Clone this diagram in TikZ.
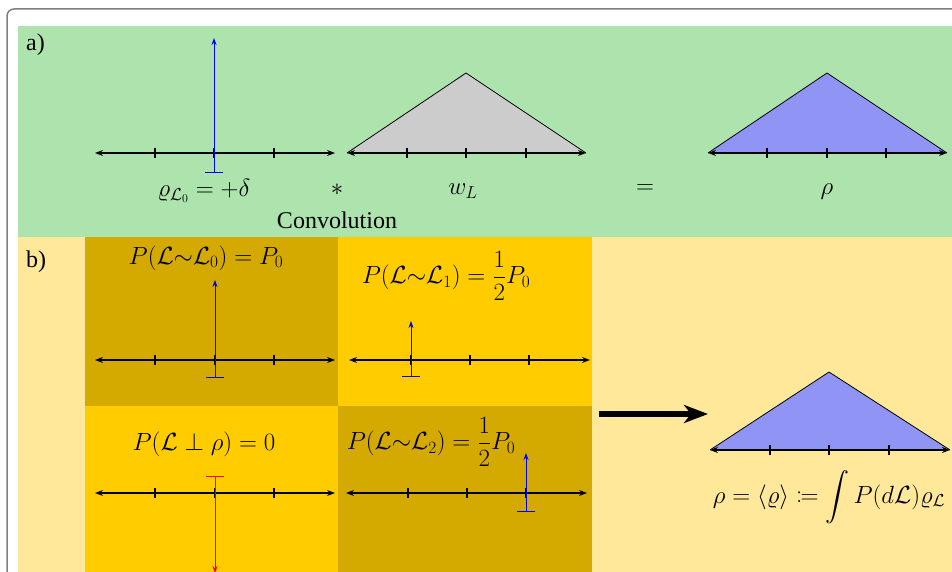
\documentclass[tikz,border=0pt]{standalone}
\usepackage{amsmath,amssymb}
\usepackage{mathtools}
\usepackage{fontspec}
\setmainfont{Liberation Serif}
\usetikzlibrary{arrows.meta}
\definecolor{bggreen}{RGB}{173,227,173}
\definecolor{bgyellow}{RGB}{255,232,153}
\definecolor{darkgold}{RGB}{212,170,0}
\definecolor{brightgold}{RGB}{255,204,0}
\definecolor{trifill}{RGB}{144,148,245}
\definecolor{grayfill}{RGB}{204,204,204}
\definecolor{framegray}{RGB}{128,128,128}
\begin{document}
\begin{tikzpicture}[x=1pt,y=-1pt,
  txt/.style={inner sep=0pt, font=\fontsize{24}{28}\selectfont\rmfamily},
  mtxt/.style={inner sep=0pt, font=\fontsize{24}{28}\selectfont},
  axisline/.style={line width=1.1pt, {Stealth[length=8pt,width=6pt]}-{Stealth[length=8pt,width=6pt]}},
  tickmark/.style={line width=1.1pt},
  spike/.style={blue, line width=1pt, {Bar[width=18pt]}-{Stealth[length=7pt,width=5pt]}},
  negspike/.style={red, line width=1pt, {Bar[width=18pt]}-{Stealth[length=7pt,width=5pt]}},
  tri/.style={draw=black, line width=0.8pt},
  bigarrow/.style={line width=6pt, -{Stealth[length=24pt,width=18pt,inset=7pt]}}]
\useasboundingbox (0,0) rectangle (952,572);
\clip (0,0) rectangle (952,572);
\fill[white] (0,0) rectangle (952,572);
% outer frame
\draw[framegray, line width=1.5pt, rounded corners=7pt] (7,9) rectangle (1100,800);
% panels
\fill[bggreen] (18,26) rectangle (960,237);
\fill[bgyellow] (18,237) rectangle (960,580);
\fill[darkgold] (85,237) rectangle (338,406);
\fill[brightgold] (338,237) rectangle (592,406);
\fill[brightgold] (85,406) rectangle (338,580);
\fill[darkgold] (338,406) rectangle (592,580);
% panel labels
\node[txt, anchor=west] (la) at (26,45) {a)};
\node[txt, anchor=west] (lb) at (26,262) {b)};
% ---------- a) ----------
\coordinate (a1l) at (95,153); \coordinate (a1r) at (335,153);
\draw[axisline] (a1l) -- (a1r);
\foreach \x in {155,214,274} \draw[tickmark] (\x,148) -- (\x,158);
\coordinate (s0b) at (214,173); \coordinate (s0t) at (214,38);
\draw[spike] (s0b) -- (s0t);
\coordinate (a2l) at (347,153); \coordinate (a2r) at (586,153); \coordinate (a2t) at (466,73);
\filldraw[tri, fill=grayfill] (a2l) -- (a2t) -- (a2r);
\draw[axisline] (a2l) -- (a2r);
\foreach \x in {407,466,526} \draw[tickmark] (\x,148) -- (\x,158);
\coordinate (a3l) at (708,153); \coordinate (a3r) at (947,153); \coordinate (a3t) at (827,73);
\filldraw[tri, fill=trifill] (a3l) -- (a3t) -- (a3r);
\draw[axisline] (a3l) -- (a3r);
\foreach \x in {767,827,886} \draw[tickmark] (\x,148) -- (\x,158);
\node[mtxt] (lrho0) at (204,191) {$\varrho_{\mathcal{L}_0}=+\delta$};
\node[mtxt] (lstar) at (337,190) {$*$};
\node[mtxt] (lw) at (463,191) {$w_L$};
\node[mtxt] (leq) at (645,189) {$=$};
\node[mtxt] (lrho) at (827,192) {$\rho$};
\node[txt] (lconv) at (337,220) {Convolution};
% ---------- b) ----------
\node[mtxt] (t1) at (206,258) {$P(\mathcal{L}{\sim}\mathcal{L}_0)=P_0$};
\draw[axisline] (95,360) -- (335,360);
\foreach \x in {155,215,274} \draw[tickmark] (\x,355) -- (\x,365);
\coordinate (s1b) at (215,378); \coordinate (s1t) at (215,280);
\draw[spike] (s1b) -- (s1t);
\node[mtxt] (t2) at (446,276) {$P(\mathcal{L}{\sim}\mathcal{L}_1)=\dfrac{1}{2}P_0$};
\draw[axisline] (349,360) -- (590,360);
\foreach \x in {411,470,529} \draw[tickmark] (\x,355) -- (\x,365);
\coordinate (s2b) at (411,377); \coordinate (s2t) at (411,321);
\draw[spike] (s2b) -- (s2t);
\node[mtxt] (t3) at (204,444) {$P(\mathcal{L}\perp\rho)=0$};
\draw[axisline] (95,493) -- (335,493);
\foreach \x in {155,215,274} \draw[tickmark] (\x,488) -- (\x,498);
\coordinate (s3b) at (215,476); \coordinate (s3t) at (215,573);
\draw[negspike] (s3b) -- (s3t);
\node[mtxt] (t4) at (431,442) {$P(\mathcal{L}{\sim}\mathcal{L}_2)=\dfrac{1}{2}P_0$};
\draw[axisline] (346,493) -- (587,493);
\foreach \x in {408,467,526} \draw[tickmark] (\x,488) -- (\x,498);
\coordinate (s4b) at (526,512); \coordinate (s4t) at (526,453);
\draw[spike] (s4b) -- (s4t);
\coordinate (ba1) at (599,414); \coordinate (ba2) at (708,414);
\draw[bigarrow] (ba1) -- (ba2);
\coordinate (a4l) at (710,450); \coordinate (a4r) at (950,450); \coordinate (a4t) at (829,372);
\filldraw[tri, fill=trifill] (a4l) -- (a4t) -- (a4r);
\draw[axisline] (a4l) -- (a4r);
\foreach \x in {770,829,889} \draw[tickmark] (\x,445) -- (\x,455);
\node[mtxt] (res) at (829,497) {$\rho=\langle\varrho\rangle\coloneqq\displaystyle\int P(d\mathcal{L})\varrho_{\mathcal{L}}$};
\end{tikzpicture}
\end{document}
